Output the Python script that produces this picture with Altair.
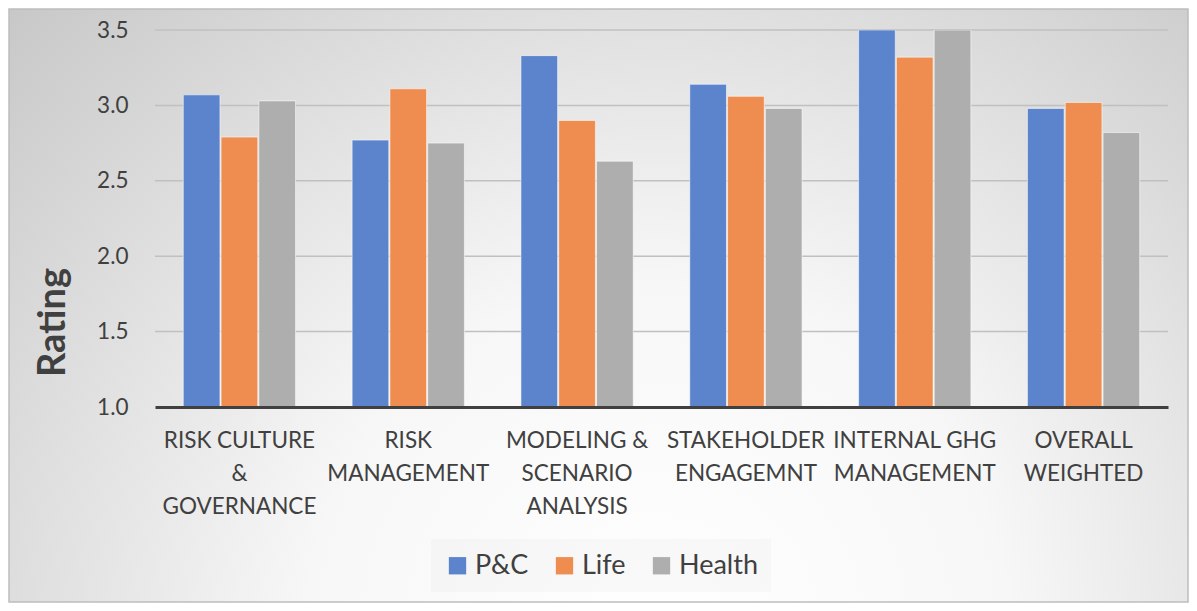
import altair as alt
import pandas as pd

categories = [
    "RISK CULTURE|&|GOVERNANCE",
    "RISK|MANAGEMENT",
    "MODELING &|SCENARIO|ANALYSIS",
    "STAKEHOLDER|ENGAGEMNT",
    "INTERNAL GHG|MANAGEMENT",
    "OVERALL|WEIGHTED",
]
series = ["P&C", "Life", "Health"]
pc_values = [3.07, 2.77, 3.33, 3.14, 3.50, 2.98]
life_values = [2.79, 3.11, 2.90, 3.06, 3.32, 3.02]
health_values = [3.03, 2.75, 2.63, 2.98, 3.50, 2.82]
colors = ["#5B84CC", "#EE8D4F", "#AEAEAE"]
y_ticks = [1.0, 1.5, 2.0, 2.5, 3.0, 3.5]
grid_values = [1.5, 2.0, 2.5, 3.0, 3.5]

rows = []
for i, c in enumerate(categories):
    for s, vals in zip(series, [pc_values, life_values, health_values]):
        rows.append({"category": c, "series": s, "value": vals[i]})
df = pd.DataFrame(rows)
grid_df = pd.DataFrame({"value": grid_values})

W, H = 1013, 377
PAD = {"left": 147, "top": 22, "right": 21, "bottom": 196}

yscale = alt.Scale(domain=[1.0, 3.5], nice=False, zero=False)
yaxis = alt.Axis(
    title="Rating",
    titleFontSize=38,
    titleFontWeight="bold",
    titleColor="#404040",
    titleFont="Lato",
    titleX=-102,
    titleY=292,
    titleAngle=-90,
    titleAlign="center",
    titleBaseline="middle",
    values=y_ticks,
    format=".1f",
    labelFontSize=22.5,
    labelColor="#404040",
    labelFont="Lato",
    labelPadding=27,
    ticks=False,
    domain=False,
    grid=False,
    zindex=1,
)

bg = alt.Chart(pd.DataFrame({"a": [0]})).mark_rect(
    fill={
        "gradient": "radial",
        "x1": 0.55, "y1": 0.78, "r1": 0.0,
        "x2": 0.55, "y2": 0.78, "r2": 0.85,
        "stops": [
            {"offset": 0.0, "color": "#ffffff"},
            {"offset": 0.35, "color": "#f7f7f7"},
            {"offset": 1.0, "color": "#bfbfbf"},
        ],
    },
    stroke="#bdbdbd",
    strokeWidth=1.5,
).encode(
    x=alt.value(-PAD["left"] + 1),
    x2=alt.value(W + PAD["right"] - 1),
    y=alt.value(-PAD["top"] + 1),
    y2=alt.value(H + PAD["bottom"] - 1),
)

grid = alt.Chart(grid_df).mark_rule(color="#c0c0c0", strokeWidth=1.5).encode(
    y=alt.Y("value:Q", scale=yscale, axis=yaxis),
    x=alt.value(0),
    x2=alt.value(W),
)

bars = alt.Chart(df).mark_bar(
    stroke="white", strokeOpacity=0.55, strokeWidth=1, clip=True
).encode(
    x=alt.X(
        "category:N",
        sort=categories,
        scale=alt.Scale(paddingInner=0.335, paddingOuter=0.1675),
        axis=alt.Axis(
            title=None,
            labelAngle=0,
            labelExpr="split(datum.label, '|')",
            labelFontSize=22.5,
            labelLineHeight=33,
            labelColor="#404040",
            labelFont="Lato",
            labelPadding=22,
            labelBaseline="top",
            domainColor="#404040",
            domainWidth=3,
            ticks=False,
            grid=False,
            labelLimit=300,
            zindex=1,
        ),
    ),
    xOffset=alt.XOffset("series:N", sort=series, scale=alt.Scale(paddingInner=0.03)),
    y=alt.Y("value:Q", scale=yscale, axis=yaxis),
    color=alt.Color(
        "series:N",
        sort=series,
        scale=alt.Scale(domain=series, range=colors),
        legend=alt.Legend(
            title=None,
            orient="none",
            direction="horizontal",
            legendX=276,
            legendY=509,
            padding=13,
            fillColor="rgba(215,215,215,0.12)",
            symbolType="square",
            symbolSize=300,
            symbolStrokeWidth=0,
            labelFontSize=27,
            labelFont="Lato",
            labelColor="#404040",
            columnPadding=22,
            labelOffset=4,
        ),
    ),
)

chart = alt.layer(bg, grid, bars).properties(
    width=W,
    height=H,
    padding=PAD,
    autosize=alt.AutoSizeParams(type="none"),
).configure_view(stroke=None)

chart.save("out.html", embed_options={"renderer": "svg", "actions": False})
